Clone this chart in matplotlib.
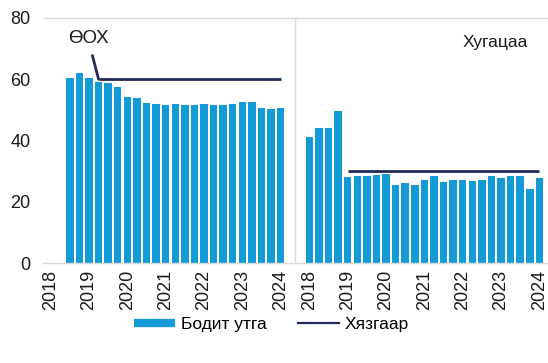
import numpy as np
import pandas as pd
import matplotlib
matplotlib.use('Agg')
import matplotlib.pyplot as plt
from matplotlib.lines import Line2D

plt.rcParams['font.family'] = ['Liberation Sans', 'DejaVu Sans']

# quarterly categories shared by both panels, year label on every Q1
quarters = pd.period_range('2018Q1', '2024Q1', freq='Q')

# ӨОХ panel: actual values and the limit
debt_values = [np.nan, np.nan, 60.5, 62.0, 60.3, 59.0, 58.7, 57.6, 54.3, 53.8,
               52.3, 51.9, 51.6, 51.8, 51.7, 51.6, 51.9, 51.5, 51.6, 51.9,
               52.5, 52.5, 50.6, 50.3, 50.6]
debt_limit = 60
debt_limit_from = '2019Q2'

# Хугацаа panel
term_values = [41.3, 44.0, 44.2, 49.7, 28.2, 28.5, 28.5, 28.7, 28.9, 25.4,
               26.2, 25.4, 27.2, 28.4, 26.5, 27.2, 27.2, 26.7, 27.2, 28.4,
               27.8, 28.4, 28.4, 24.3, 27.8]
term_limit = 30
term_limit_from = '2019Q1'

BAR = '#159ad8'
LIMIT = '#1f2b5b'
FRAME = '#d9d9d9'

fig = plt.figure(figsize=(5.48, 3.63), dpi=100)
ax = fig.add_axes([43 / 548, 100 / 363, 505 / 548, 245 / 363])

panels = [(0, debt_values, debt_limit, debt_limit_from),
          (27, term_values, term_limit, term_limit_from)]

tick_pos, tick_lab = [], []
for offset, values, limit, start in panels:
    x = offset + np.arange(len(quarters))
    ax.bar(x, values, width=0.78, color=BAR, zorder=2)
    on = quarters >= pd.Period(start, freq='Q')
    ax.plot(x[on], np.full(on.sum(), limit), color=LIMIT, lw=2.0,
            solid_capstyle='butt', zorder=3)
    q1 = quarters.quarter == 1
    tick_pos += list(x[q1])
    tick_lab += [str(y) for y in quarters.year[q1]]

# panel separator
ax.axvline(25.5, color=FRAME, lw=1.0, zorder=1)

ax.set_xlim(-0.8, 51.9)
ax.set_ylim(0, 80)
ax.set_yticks([0, 20, 40, 60, 80])
ax.set_xticks(tick_pos)
ax.set_xticklabels(tick_lab, rotation=90)
ax.tick_params(length=0, labelsize=13, colors='#1a1a1a')
ax.tick_params(axis='y', pad=9)
ax.tick_params(axis='x', pad=5)
for side in ['left', 'right']:
    ax.spines[side].set_visible(False)
for side in ['top', 'bottom']:
    ax.spines[side].set_color(FRAME)
    ax.spines[side].set_linewidth(1.0)

# panel titles
ax.annotate('ӨОХ', xy=(5, 60), xytext=(3.9, 73.2), ha='center', va='center',
            fontsize=13.5, color='#1a1a1a',
            arrowprops=dict(arrowstyle='-', color=LIMIT, lw=2.0,
                            shrinkA=4, shrinkB=0))
ax.text(49.8, 72, 'Хугацаа', ha='right', va='center', fontsize=12.5,
        color='#1a1a1a')

handles = [Line2D([], [], color=BAR, lw=6, solid_capstyle='butt'),
           Line2D([], [], color=LIMIT, lw=1.6)]
fig.legend(handles, ['Бодит утга', 'Хязгаар'], loc='center',
           bbox_to_anchor=(0.495, 0.105), ncol=2, frameon=False,
           fontsize=12.5, handlelength=2.4, handletextpad=0.3,
           columnspacing=1.8)

fig.savefig('out.png', dpi=100)
